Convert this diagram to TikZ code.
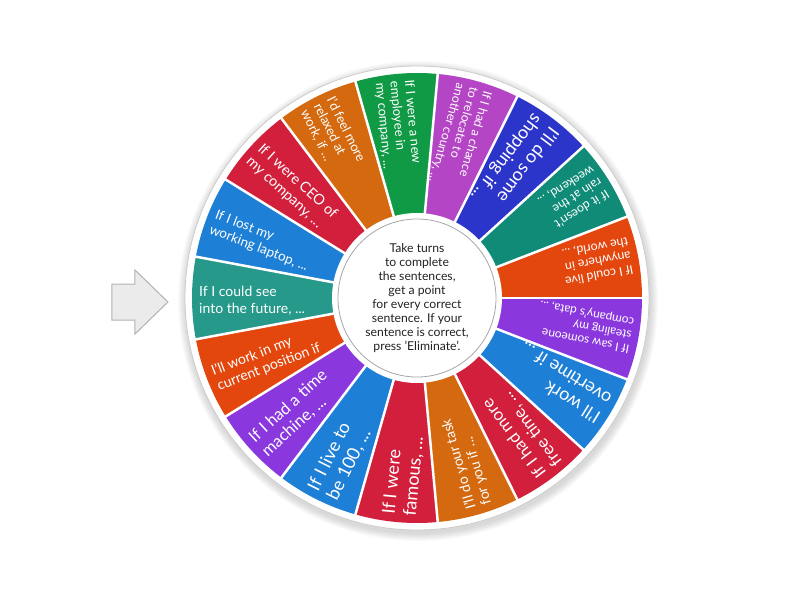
\documentclass[tikz,border=0pt]{standalone}
\usepackage{fontspec}
\setmainfont{Lato}
\definecolor{cteal}{HTML}{26998B}
\definecolor{cblue}{HTML}{1D7FD6}
\definecolor{cred}{HTML}{D21F3C}
\definecolor{corange}{HTML}{D4690F}
\definecolor{cgreen}{HTML}{119A45}
\definecolor{cmagenta}{HTML}{B445C4}
\definecolor{cnavy}{HTML}{2C35C9}
\definecolor{cteal2}{HTML}{0F8B78}
\definecolor{cflame}{HTML}{E3470E}
\definecolor{cviolet}{HTML}{8A38DE}
\definecolor{ctext}{HTML}{222222}
\tikzset{
	segtext/.style={anchor=west, align=left, inner sep=0, text=white},
	split/.style={white, line width=2.5},
}

\begin{document}
\begin{tikzpicture}[x=1pt, y=1pt]
	\useasboundingbox (-417,-302) rectangle (383,298);
	\foreach \k in {1,...,8}
		\fill[black, opacity=0.02] (1,-3) circle (232+\k);
	\fill[white, draw=black!20, line width=0.8] (0,0) circle (232);
	\foreach \c/\s/\l/\t [count=\i] in {
		cteal/14/17/{If I could see\\into the future, ...},
		cblue/13.5/16/{If I lost my\\working laptop, ...},
		cred/14.5/17/{If I were CEO of\\my company, ...},
		corange/13/14.5/{I'd feel more\\relaxed at\\work, if ...},
		cgreen/13/14.5/{If I were a new\\employee in\\my company, ...},
		cmagenta/12.4/14/{If I had a chance\\to relocate to\\another country, ...},
		cnavy/18/21/{I'll do some\\shopping if ...},
		cteal2/12.4/14/{If it doesn't\\rain at the\\weekend, ...},
		cflame/12.4/14/{If I could live\\anywhere in\\the world, ...},
		cviolet/12/13.5/{If I saw someone\\stealing my\\company's data, ...},
		cblue/18/21/{I'll work\\overtime if ...},
		cred/17/19.5/{If I had more\\free time, ...},
		corange/14/16/{I'll do your task\\for you if ...},
		cred/18/21/{If I were\\famous, ...},
		cblue/18/21/{If I live to\\be 100, ...},
		cviolet/16.5/19/{If I had a time\\machine, ...},
		cflame/14/16/{I'll work in my\\current position if}}
	{
		\pgfmathsetmacro\a{180-21.1765*(\i-1)}
		\fill[\c] (0,0) -- ({\a+10.588}:225) arc[start angle=\a+10.588, end angle=\a-10.588, radius=225] -- cycle;
		\node[segtext, rotate=\a+180, yshift=-3, font=\fontsize{\s}{\l}\selectfont] (seg\i) at (\a:218) {\t};
	}
	\foreach \i in {0,...,16}
		\draw[split] ({190.588-21.1765*\i}:84) -- ({190.588-21.1765*\i}:226);
	\fill[white] (0,0) circle (85);
	\node[circle, draw=black!35, line width=0.8, fill=white, minimum size=158pt, inner sep=0] (hub) at (0,0) {};
	\node[align=center, text=ctext, font=\fontsize{12.2}{13.9}\selectfont] (rules) at (hub.center) {Take turns\\to complete\\the sentences,\\get a point\\for every correct\\sentence. If your\\sentence is correct,\\press 'Eliminate'.};
	\draw[fill=black!8, draw=black!30, line width=1] (-305,14) -- (-282,14) -- (-282,28) -- (-249,-4) -- (-282,-36) -- (-282,-22) -- (-305,-22) -- cycle;
\end{tikzpicture}
\end{document}
